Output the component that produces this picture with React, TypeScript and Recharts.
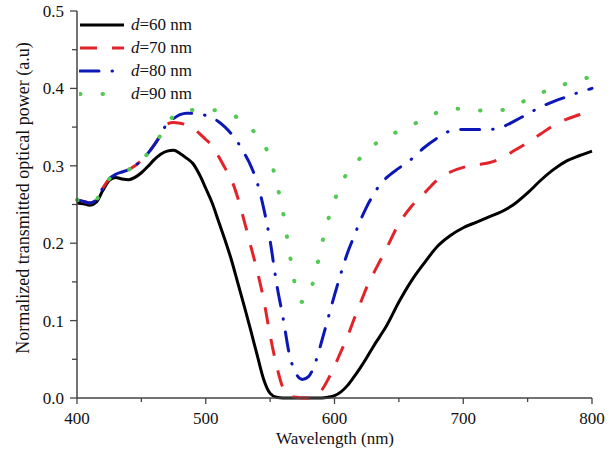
import { LineChart, Line, XAxis, YAxis } from "recharts";

const FONT = "'Liberation Serif', 'Times New Roman', serif";
const AXIS = "#444";

// plot frame edges (px)
const LEFT = 77;
const BOTTOM = 398;

const WAVELENGTHS = [
  400, 405, 410, 415, 420, 425, 430, 435, 440, 445,
  450, 455, 460, 465, 470, 475, 480, 485, 490, 495,
  500, 505, 510, 515, 520, 525, 530, 535, 540, 545,
  550, 555, 560, 565, 570, 575, 580, 585, 590, 595,
  600, 605, 610, 615, 620, 625, 630, 635, 640,
  650, 660, 670, 680, 690, 700, 710, 720, 730, 740, 750, 760, 770, 780, 790, 800,
];

const D60 = [
  0.252, 0.251, 0.249, 0.253, 0.268, 0.281, 0.285, 0.283, 0.282, 0.285,
  0.291, 0.299, 0.308, 0.315, 0.319, 0.320, 0.316, 0.310, 0.303, 0.289,
  0.271, 0.252, 0.228, 0.204, 0.178, 0.148, 0.118, 0.087, 0.055, 0.024,
  0.006, 0.001, 0, 0, 0, 0, 0, 0, 0, 0.001,
  0.003, 0.008, 0.016, 0.027, 0.039, 0.052, 0.066, 0.079, 0.092,
  0.124, 0.152, 0.175, 0.196, 0.210, 0.220, 0.227, 0.234, 0.241, 0.251, 0.265, 0.281, 0.295, 0.306, 0.313, 0.319,
];

const D70 = [
  0.256, 0.254, 0.252, 0.256, 0.271, 0.283, 0.289, 0.292, 0.295, 0.300,
  0.307, 0.316, 0.327, 0.340, 0.354, 0.356, 0.355, 0.353, 0.349, 0.342,
  0.334, 0.326, 0.312, 0.297, 0.282, 0.258, 0.228, 0.196, 0.164, 0.127,
  0.081, 0.042, 0.013, 0.003, 0.001, 0, 0, 0.003, 0.010, 0.024,
  0.041, 0.060, 0.079, 0.101, 0.122, 0.143, 0.160, 0.176, 0.192,
  0.225, 0.248, 0.265, 0.282, 0.292, 0.298, 0.301, 0.304, 0.310, 0.320, 0.330, 0.341, 0.352, 0.360, 0.366, 0.372,
];

const D80 = [
  0.256, 0.254, 0.252, 0.256, 0.271, 0.283, 0.289, 0.292, 0.295, 0.300,
  0.307, 0.316, 0.327, 0.340, 0.355, 0.361, 0.366, 0.368, 0.368, 0.367,
  0.365, 0.362, 0.357, 0.350, 0.341, 0.330, 0.316, 0.300, 0.278, 0.245,
  0.203, 0.148, 0.104, 0.056, 0.032, 0.024, 0.028, 0.045, 0.073, 0.103,
  0.133, 0.161, 0.187, 0.208, 0.229, 0.247, 0.262, 0.275, 0.284,
  0.297, 0.309, 0.324, 0.336, 0.345, 0.347, 0.347, 0.347, 0.350, 0.358, 0.367, 0.376, 0.383, 0.389, 0.395, 0.400,
];

const D90 = [
  0.256, 0.254, 0.252, 0.256, 0.271, 0.283, 0.289, 0.292, 0.295, 0.300,
  0.307, 0.316, 0.327, 0.340, 0.355, 0.364, 0.369, 0.372, 0.372, 0.372,
  0.372, 0.372, 0.371, 0.369, 0.366, 0.362, 0.356, 0.348, 0.340, 0.328,
  0.310, 0.278, 0.240, 0.188, 0.142, 0.124, 0.133, 0.160, 0.198, 0.230,
  0.255, 0.276, 0.291, 0.301, 0.310, 0.318, 0.326, 0.332, 0.337,
  0.345, 0.353, 0.360, 0.369, 0.373, 0.374, 0.372, 0.371, 0.372, 0.378, 0.386, 0.394, 0.400, 0.406, 0.411, 0.415,
];

const X_TICKS = [400, 450, 500, 550, 600, 650, 700, 750, 800];
const TOP_TICKS = [440, 480, 520, 560, 600, 640, 680, 720, 760];
const Y_TICKS = [0, 0.05, 0.1, 0.15, 0.2, 0.25, 0.3, 0.35, 0.4, 0.45, 0.5];

const SERIES = [
  { key: "d60", label: "60", color: "#000000", width: 3, dash: undefined as string | undefined, cap: "butt" },
  { key: "d70", label: "70", color: "#e3232a", width: 3, dash: "17 15", cap: "butt" },
  { key: "d80", label: "80", color: "#0c17b8", width: 3, dash: "19 13 0.5 13", cap: "round" },
  { key: "d90", label: "90", color: "#52c952", width: 4, dash: "0.5 22", cap: "round" },
];

const data = WAVELENGTHS.map((wl, i) => ({ wl, d60: D60[i], d70: D70[i], d80: D80[i], d90: D90[i] }));

const isMajor = (v: number, step: number) => Math.abs(v / step - Math.round(v / step)) < 1e-6;

function BottomTick({ x, payload }: any) {
  const major = isMajor(payload.value, 100);
  return (
    <g>
      <line x1={x} x2={x} y1={BOTTOM} y2={BOTTOM + (major ? 6 : 4)} stroke={AXIS} strokeWidth={1.3} />
      {major && (
        <text x={x} y={BOTTOM + 20} dy="0.35em" textAnchor="middle" fontFamily={FONT} fontSize={17} fill="#111">
          {payload.value}
        </text>
      )}
    </g>
  );
}

function LeftTick({ y, payload }: any) {
  const major = isMajor(payload.value, 0.1);
  return (
    <g>
      <line x1={LEFT - (major ? 7 : 5)} x2={LEFT} y1={y} y2={y} stroke={AXIS} strokeWidth={1.3} />
      {major && (
        <text x={LEFT - 13} y={y} dy="0.35em" textAnchor="end" fontFamily={FONT} fontSize={17} fill="#111">
          {payload.value.toFixed(1)}
        </text>
      )}
    </g>
  );
}

function TopTick({ x, payload }: any) {
  return <line x1={x} x2={x} y1={11} y2={15} stroke={AXIS} strokeWidth={1.3} key={payload.value} />;
}

function RightTick({ y, payload }: any) {
  return <line x1={592} x2={587} y1={y} y2={y} stroke={AXIS} strokeWidth={1.3} key={payload.value} />;
}

function YTitle() {
  return (
    <text x={23} y={198} transform="rotate(-90 23 198)" textAnchor="middle" dominantBaseline="central" fontFamily={FONT} fontSize={18} fill="#111">
      Normalized transmitted optical power (a.u)
    </text>
  );
}

function XTitle() {
  return (
    <text x={335} y={438} textAnchor="middle" dominantBaseline="central" fontFamily={FONT} fontSize={17} fill="#111">
      Wavelength (nm)
    </text>
  );
}

function LegendBox() {
  return (
    <div style={{ position: "absolute", left: 79, top: 13, fontFamily: FONT, fontSize: 17, color: "#111" }}>
      {SERIES.map((s) => (
        <div key={s.key} style={{ display: "flex", alignItems: "center", height: 23 }}>
          <svg width={46} height={10} style={{ display: "block" }}>
            <line x1={1} x2={45} y1={5} y2={5} stroke={s.color} strokeWidth={s.width} strokeDasharray={s.dash} strokeLinecap={s.cap as any} />
          </svg>
          <span style={{ marginLeft: 6 }}>
            <i>d</i>={s.label} nm
          </span>
        </div>
      ))}
    </div>
  );
}

export default function App() {
  return (
    <div style={{ position: "absolute", left: 0, top: 0, width: 614, height: 450, background: "#fff" }}>
      <LineChart width={614} height={450} data={data} margin={{ top: 11, right: 22, bottom: 0, left: 0 }}>
        <XAxis
          dataKey="wl"
          type="number"
          domain={[400, 800]}
          ticks={X_TICKS}
          height={52}
          stroke={AXIS}
          strokeWidth={1.5}
          tickLine={false}
          tick={<BottomTick />}
          interval={0}
          label={{ content: <XTitle /> }}
        />
        <XAxis
          xAxisId="top"
          dataKey="wl"
          type="number"
          orientation="top"
          domain={[400, 800]}
          ticks={TOP_TICKS}
          height={0}
          stroke={AXIS}
          strokeWidth={1.5}
          tickLine={false}
          tick={<TopTick />}
          interval={0}
        />
        <YAxis
          type="number"
          domain={[0, 0.5]}
          ticks={Y_TICKS}
          width={77}
          stroke={AXIS}
          strokeWidth={1.5}
          tickLine={false}
          tick={<LeftTick />}
          interval={0}
          label={{ content: <YTitle /> }}
        />
        <YAxis
          yAxisId="right"
          orientation="right"
          type="number"
          domain={[0, 0.5]}
          ticks={Y_TICKS}
          width={0}
          stroke={AXIS}
          strokeWidth={1.5}
          tickLine={false}
          tick={<RightTick />}
          interval={0}
        />
        {SERIES.map((s) => (
          <Line
            key={s.key}
            type="monotone"
            dataKey={s.key}
            stroke={s.color}
            strokeWidth={s.width}
            strokeDasharray={s.dash}
            strokeLinecap={s.cap as any}
            dot={false}
            activeDot={false}
            isAnimationActive={false}
          />
        ))}
      </LineChart>
      <LegendBox />
    </div>
  );
}
